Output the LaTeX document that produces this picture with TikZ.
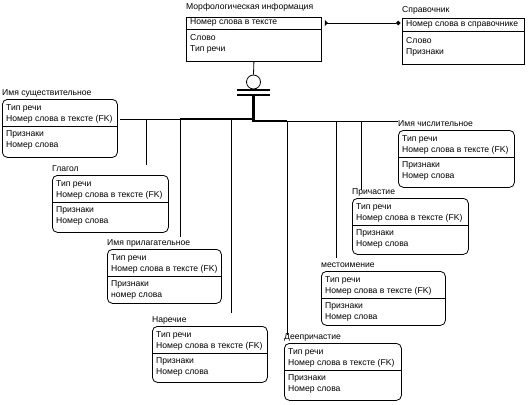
\documentclass[tikz,border=0pt]{standalone}
\usepackage{fontspec}
\setmainfont{Liberation Sans}
\usepackage{tikz}
\usetikzlibrary{positioning,arrows.meta,calc}
\tikzstyle{entity} = [draw, line width=0.8pt, inner sep=0pt, anchor=north west]
\tikzstyle{kid} = [entity, rounded corners=5pt]
\tikzstyle{lbl} = [anchor=base west, inner sep=0pt, font=\fontsize{8.6}{11}\selectfont]
\tikzstyle{link} = [line width=0.8pt]
\tikzstyle{bus} = [line width=2.4pt]
\tikzstyle{bar} = [line width=2pt]
% child entity: name, x, y, width, height, title, last attribute
\newcommand{\kidbox}[7]{%
  \node[kid, minimum width=#4, minimum height=#5] (#1) at (#2,#3) {};
  \node[lbl] (#1-t) at ($(#1.north west)+(0,-4)$) {#6};
  \node[lbl] (#1-k1) at ($(#1.north west)+(4,11)$) {Тип речи};
  \node[lbl] (#1-k2) at ($(#1.north west)+(4,22)$) {Номер слова в тексте (FK)};
  \draw[link] ($(#1.north west)+(0,27.5)$) -- ($(#1.north east)+(0,27.5)$);
  \node[lbl] (#1-a1) at ($(#1.north west)+(4,37.5)$) {Признаки};
  \node[lbl] (#1-a2) at ($(#1.north west)+(4,48.5)$) {#7};
}

\begin{document}
\begin{tikzpicture}[x=1pt,y=-1pt]
    \useasboundingbox (0,0) rectangle (529,404);
    % Parent entities
    \node[entity, minimum width=135, minimum height=44] (morph) at (186,17) {};
    \node[lbl] (morph-t) at ($(morph.north west)+(0,-7)$) {Морфологическая информация};
    \node[lbl] (morph-k) at ($(morph.north west)+(4,8)$) {Номер слова в тексте};
    \draw[link] ($(morph.north west)+(0,12)$) -- ($(morph.north east)+(0,12)$);
    \node[lbl] (morph-a1) at ($(morph.north west)+(4,23.5)$) {Слово};
    \node[lbl] (morph-a2) at ($(morph.north west)+(4,34.5)$) {Тип речи};

    \node[entity, minimum width=122, minimum height=46] (sprav) at (402,18) {};
    \node[lbl] (sprav-t) at ($(sprav.north west)+(0,-5)$) {Справочник};
    \node[lbl] (sprav-k) at ($(sprav.north west)+(4,8.7)$) {Номер слова в справочнике};
    \draw[link] ($(sprav.north west)+(0,13.7)$) -- ($(sprav.north east)+(0,13.7)$);
    \node[lbl] (sprav-a1) at ($(sprav.north west)+(4,25.3)$) {Слово};
    \node[lbl] (sprav-a2) at ($(sprav.north west)+(4,37)$) {Признаки};

    % Draw the relationship between them
    \draw[link, {Triangle[reversed,length=3pt,width=6pt]}-{Circle[length=4.5pt]},
        shorten <=3pt, shorten >=1.5pt]
        (morph.east |- morph-k) -- (sprav.west |- morph-k);

    % Subtypes
    \kidbox{sush}{2}{99}{115}{58}{Имя существительное}{Номер слова}
    \kidbox{glag}{52}{175}{116}{57}{Глагол}{Номер слова}
    \kidbox{pril}{107}{249}{114}{54}{Имя прилагательное}{номер слова}
    \kidbox{nar}{152}{326}{115}{56}{Наречие}{Номер слова}
    \kidbox{deep}{284}{343}{117}{57}{Деепричастие}{Номер слова}
    \kidbox{mest}{321}{271}{124}{54}{местоимение}{Номер слова}
    \kidbox{chisl}{398}{130}{116}{57}{Имя числительное}{Номер слова}
    \kidbox{prich}{352}{198}{116}{56}{Причастие}{Номер слова}

    % Draw the category symbol
    \node[draw, circle, link, minimum size=14, inner sep=0pt] (cat) at (253.5,82) {};
    \draw[link] (morph.south) -- (cat.north);
    \draw[bar] (237,90) -- (270,90);
    \draw[bar] (237,94.5) -- (270,94.5);

    % Draw the bus
    \coordinate (hub) at (253.5,95);
    \coordinate (busL) at (180,119);
    \coordinate (busR) at (287,121);
    \draw[bus] (busL) -| (hub);
    \draw[bus] (hub) |- (busR);

    \coordinate (glag-e) at (146,165);
    \coordinate (pril-e) at (180,237);
    \coordinate (nar-e) at (231,313);
    \coordinate (deep-e) at (287,335);
    \coordinate (mest-e) at (336,258);
    \coordinate (prich-e) at (361,190);

    \draw[link, shorten <=2pt] (sush.east |- busL) -- (busL);
    \draw[link] (glag-e) |- (busL);
    \draw[link] (pril-e) -- (busL);
    \draw[link] (nar-e) -- (nar-e |- busL);
    \draw[link] (deep-e) -- (busR);
    \draw[link] (mest-e) |- (busR);
    \draw[link] (prich-e) |- (busR);
    \draw[link] (busR) -- (busR -| chisl.west);
\end{tikzpicture}
\end{document}
